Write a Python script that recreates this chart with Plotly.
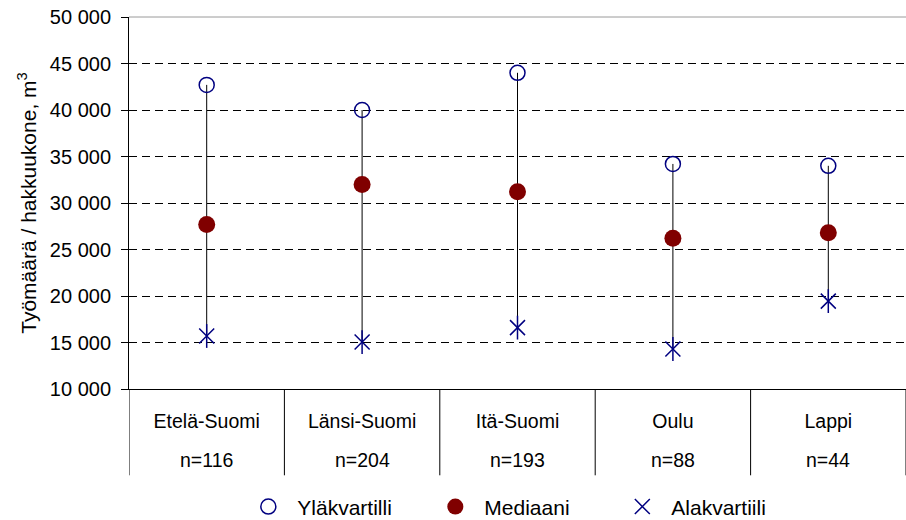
import plotly.graph_objects as go

regions = ["Etelä-Suomi", "Länsi-Suomi", "Itä-Suomi", "Oulu", "Lappi"]
counts = ["n=116", "n=204", "n=193", "n=88", "n=44"]
upper_q = [42700, 40000, 44000, 34200, 34000]
median = [27700, 32000, 31200, 26200, 26800]
lower_q = [15700, 15050, 16600, 14300, 19450]

y_ticks = [10000, 15000, 20000, 25000, 30000, 35000, 40000, 45000, 50000]

FONT = "Liberation Sans, Arial, sans-serif"
FS_X = 19.5
FS_Y = 20
FS_LEG = 21
FS_TITLE = 21
NAVY = "#000080"
DARKRED = "#800000"

fig = go.Figure()

# whiskers from lower to upper quartile
wx, wy = [], []
for r, lo, hi in zip(regions, lower_q, upper_q):
    wx += [r, r, None]
    wy += [lo, hi, None]
fig.add_trace(go.Scatter(x=wx, y=wy, mode="lines", line=dict(color="black", width=1),
                         showlegend=False, hoverinfo="skip"))

fig.add_trace(go.Scatter(x=regions, y=upper_q, mode="markers", name="Yläkvartilli",
                         marker=dict(symbol="circle-open", size=15, color=NAVY,
                                     line=dict(color=NAVY, width=1.5))))
fig.add_trace(go.Scatter(x=regions, y=median, mode="markers", name="Mediaani",
                         marker=dict(symbol="circle", size=17, color=DARKRED,
                                     line=dict(width=0))))
fig.add_trace(go.Scatter(x=regions, y=lower_q, mode="markers", name="Alakvartiili",
                         marker=dict(symbol="x-thin-open", size=15, color=NAVY,
                                     line=dict(color=NAVY, width=1.5))))
fig.add_trace(go.Scatter(x=regions, y=lower_q, mode="markers", showlegend=False,
                         marker=dict(symbol="line-ns-open", size=17, color=NAVY,
                                     line=dict(color=NAVY, width=1.5)),
                         hoverinfo="skip"))

# table separators at category boundaries
for i in range(len(regions) + 1):
    fig.add_shape(type="line", xref="x", yref="paper", x0=i - 0.5, x1=i - 0.5,
                  y0=0, y1=-0.232, line=dict(color="black", width=1))

# top border line of plot area
fig.add_shape(type="line", xref="paper", yref="paper", x0=0, x1=1, y0=1, y1=1,
              line=dict(color="#9a9a9a", width=1))

# second table row
for r, c in zip(regions, counts):
    fig.add_annotation(x=r, y=-0.19, xref="x", yref="paper", text=c, showarrow=False,
                       font=dict(family=FONT, size=FS_X, color="black"), yanchor="middle")

fig.update_layout(
    width=906, height=520,
    margin=dict(l=129, r=0, t=17, b=131, autoexpand=False),
    paper_bgcolor="white", plot_bgcolor="white",
    separators=", ",
    font=dict(family=FONT, size=FS_X, color="black"),
    showlegend=True,
    legend=dict(orientation="h", x=0.142, y=-0.317, xanchor="left", yanchor="middle",
                font=dict(family=FONT, size=FS_LEG, color="black"),
                itemwidth=48, entrywidth=124, entrywidthmode="pixels",
                bgcolor="rgba(0,0,0,0)"),
    xaxis=dict(type="category", categoryorder="array", categoryarray=regions,
               range=[-0.5, len(regions) - 0.5],
               showline=True, linecolor="black", linewidth=1,
               showgrid=False, ticks="", ticklabelstandoff=15,
               tickfont=dict(family=FONT, size=FS_X, color="black"),
               automargin=False, fixedrange=True),
    yaxis=dict(range=[10000, 50000], tickvals=y_ticks, tickformat=",d",
               showline=True, linecolor="black", linewidth=1,
               ticks="outside", ticklen=7, tickcolor="black", ticklabelstandoff=6,
               showgrid=True, gridcolor="black", gridwidth=1, griddash="8px,5px",
               zeroline=False,
               tickfont=dict(family=FONT, size=FS_Y, color="black"),
               title=dict(text="Työmäärä / hakkuukone, m<sup>3</sup>",
                          font=dict(family=FONT, size=FS_TITLE, color="black"), standoff=7),
               automargin=False),
)

fig.write_html("out.html", config={"displayModeBar": False},
               post_script="document.body.style.margin='0';")
